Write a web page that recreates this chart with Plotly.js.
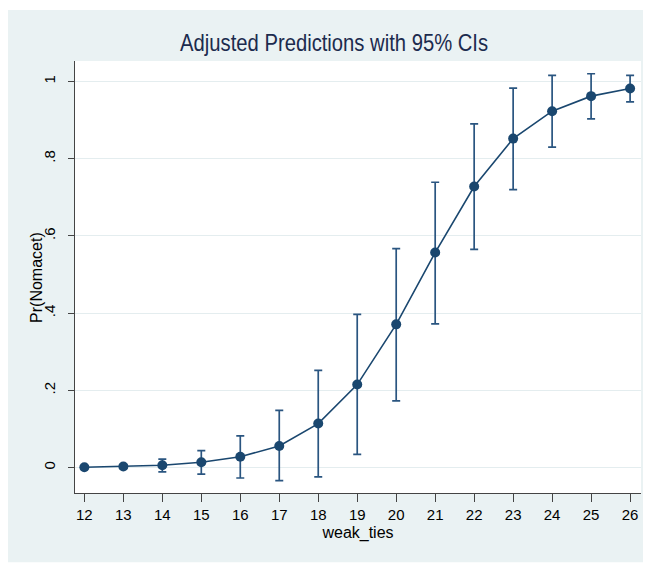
<!DOCTYPE html>
<html>
<head>
<meta charset="utf-8">
<script src="https://cdn.plot.ly/plotly-3.0.1.min.js"></script>
<style>html,body{margin:0;padding:0;background:#fff;}#chart{width:645px;height:563px;}</style>
</head>
<body>
<div id="chart"></div>
<script>
// Data
var weakTies = [12, 13, 14, 15, 16, 17, 18, 19, 20, 21, 22, 23, 24, 25, 26];
var prNomacet = [0.001, 0.003, 0.006, 0.014, 0.028, 0.056, 0.114, 0.215, 0.371, 0.557, 0.728, 0.852, 0.923, 0.962, 0.982];
var ciUpper = [0.003, 0.008, 0.022, 0.044, 0.082, 0.148, 0.252, 0.397, 0.567, 0.739, 0.890, 0.983, 1.016, 1.020, 1.016];
var ciLower = [-0.001, -0.002, -0.011, -0.017, -0.027, -0.034, -0.024, 0.034, 0.173, 0.372, 0.565, 0.720, 0.830, 0.903, 0.947];
var yTickVals = [0, 0.2, 0.4, 0.6, 0.8, 1];
var yTickText = ['0', '.2', '.4', '.6', '.8', '1'];
var xTickVals = weakTies;

var errPlus = prNomacet.map(function (v, i) { return ciUpper[i] - v; });
var errMinus = prNomacet.map(function (v, i) { return v - ciLower[i]; });

var navy = '#1a476f';
var trace = {
  x: weakTies,
  y: prNomacet,
  type: 'scatter',
  mode: 'lines+markers',
  line: {color: navy, width: 1.6},
  marker: {color: navy, size: 10, symbol: 'circle'},
  error_y: {type: 'data', symmetric: false, array: errPlus, arrayminus: errMinus,
            color: '#2a5580', thickness: 1.7, width: 4},
  hoverinfo: 'x+y'
};

var font = 'Liberation Sans, Arial, sans-serif';
var layout = {
  width: 645, height: 563,
  margin: {l: 75, r: 4, t: 61, b: 70, pad: 0},
  paper_bgcolor: '#ffffff',
  plot_bgcolor: '#ffffff',
  showlegend: false,
  font: {family: font, size: 15, color: '#000'},
  title: {text: 'Adjusted Predictions with 95% CIs',
          font: {family: font, size: 24, color: '#1c2b4e'},
          xref: 'container', yref: 'container', x: 0.518, xanchor: 'center', y: 0.924, yanchor: 'middle'},
  xaxis: {
    range: [11.76, 26.28], tickvals: xTickVals, ticktext: xTickVals.map(String),
    showgrid: false, zeroline: false, showline: true, linecolor: '#444', linewidth: 1,
    ticks: 'outside', ticklen: 8, tickcolor: '#444', tickwidth: 1,
    tickfont: {size: 15, color: '#000'},
    title: {text: 'weak_ties', font: {size: 16, color: '#000'}, standoff: 4}
  },
  yaxis: {
    range: [-0.0658, 1.053], tickvals: yTickVals, ticktext: yTickText, tickangle: -90,
    showgrid: true, gridcolor: '#e4edef', gridwidth: 1, zeroline: false,
    showline: true, linecolor: '#444', linewidth: 1,
    ticks: 'outside', ticklen: 6, tickcolor: '#444', tickwidth: 1, ticklabelstandoff: 7,
    tickfont: {size: 15, color: '#000'}
  },
  annotations: [
    {text: 'Pr(Nomacet)', xref: 'paper', yref: 'paper', x: -0.069, y: 0.5,
     xanchor: 'center', yanchor: 'middle', textangle: -90, showarrow: false,
     font: {size: 16, color: '#000'}}
  ],
  shapes: [
    {type: 'rect', xref: 'paper', yref: 'paper', x0: -0.1184, x1: 1.0035, y0: -0.1605, y1: 1.118,
     fillcolor: '#eaf2f3', line: {width: 0}, layer: 'below'},
    {type: 'rect', xref: 'paper', yref: 'paper', x0: 0, x1: 1, y0: 0, y1: 1,
     fillcolor: '#ffffff', line: {width: 0}, layer: 'below'}
  ]
};

Plotly.newPlot('chart', [trace], layout, {displayModeBar: false, staticPlot: true}).then(function (gd) {
  // Condense the title horizontally like the reference's narrow title face
  var t = gd.querySelector('.gtitle');
  if (t) {
    t.setAttribute('textLength', '308');
    t.setAttribute('lengthAdjust', 'spacingAndGlyphs');
  }
});
</script>
</body>
</html>
